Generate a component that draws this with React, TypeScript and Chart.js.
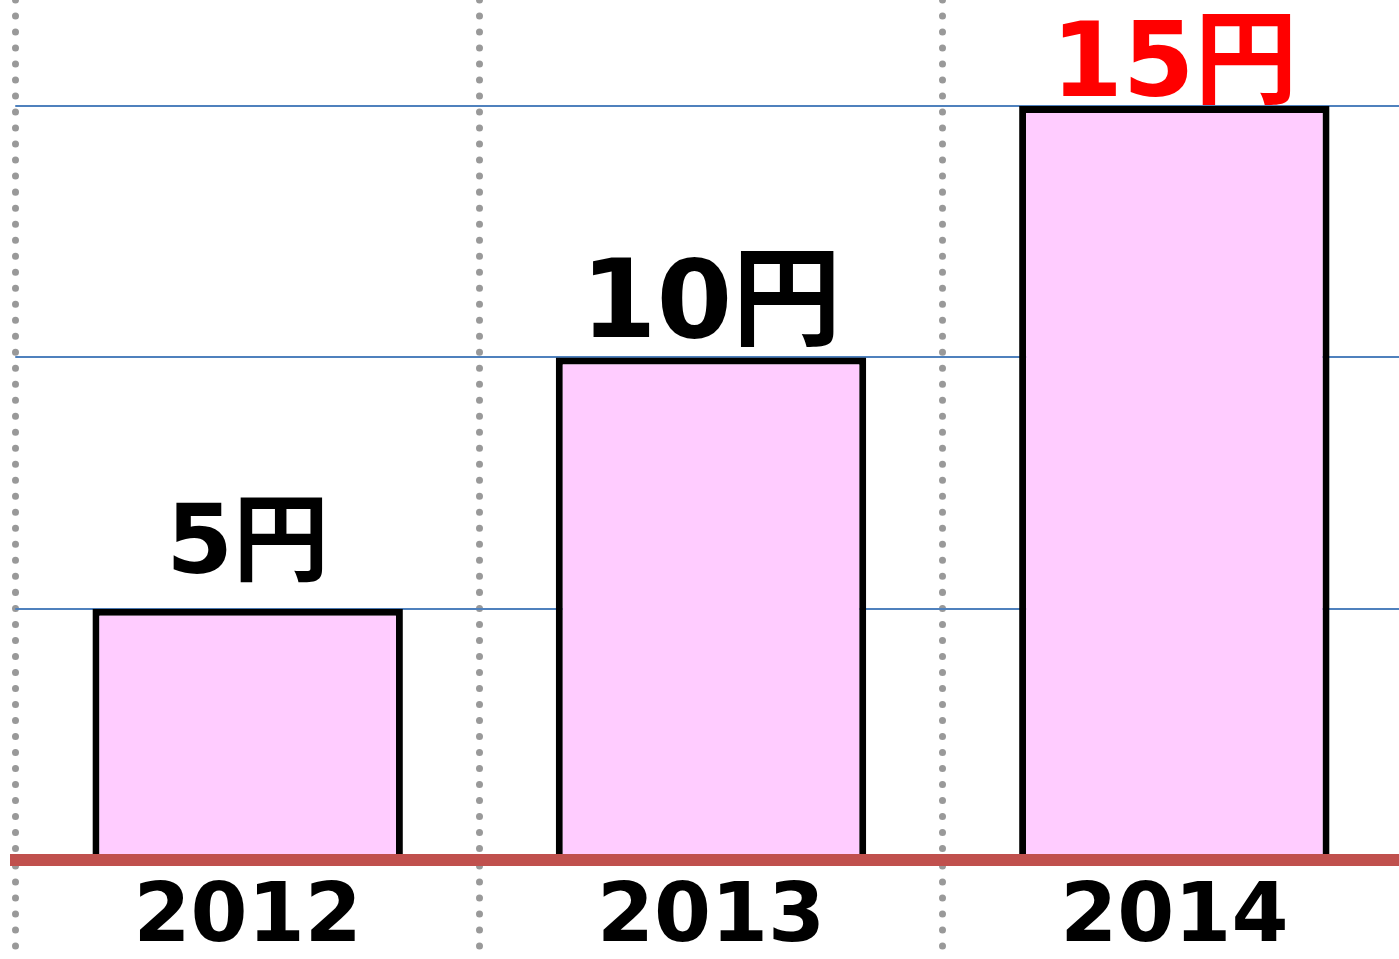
import React, { useEffect, useRef } from 'react';
import { Chart, registerables } from 'chart.js';

Chart.register(...registerables);

const categories = ['2012', '2013', '2014'];
const prices = [5, 10, 15];
const unitSuffix = '円';
const gridValues = [5, 10, 15];
const labelColors = ['#000000', '#000000', '#FF0000'];
const labelFontSizes = [96, 109, 103];
const labelGaps = [36, 20, 10];

const FONT = '"DejaVu Sans", "Noto Sans CJK JP", sans-serif';

export default function App() {
  const ref = useRef<HTMLCanvasElement>(null);

  useEffect(() => {
    const canvas = ref.current;
    if (!canvas) return;

    const labelPlugin = {
      id: 'barLabels',
      beforeDraw(chart: any) {
        chart.ctx.lineCap = 'round';
      },
      beforeDatasetsDraw(chart: any) {
        chart.ctx.lineCap = 'butt';
      },
      afterDatasetsDraw(chart: any) {
        const ctx = chart.ctx;
        const meta = chart.getDatasetMeta(0);
        ctx.save();
        ctx.textAlign = 'center';
        ctx.textBaseline = 'alphabetic';
        meta.data.forEach((bar: any, i: number) => {
          ctx.font = `bold ${labelFontSizes[i]}px ${FONT}`;
          ctx.fillStyle = labelColors[i];
          ctx.fillText(`${prices[i]}${unitSuffix}`, bar.x, bar.y - labelGaps[i]);
        });
        ctx.restore();
      },
    };

    const chart = new Chart(canvas, {
      type: 'bar',
      data: {
        labels: categories,
        datasets: [
          {
            data: prices,
            backgroundColor: '#FFCCFF',
            borderColor: '#000000',
            borderWidth: 7,
            barPercentage: 0.67,
            categoryPercentage: 1,
          },
        ],
      },
      options: {
        responsive: false,
        animation: false,
        layout: { padding: { left: 16, right: 0, top: 0, bottom: 0 } },
        plugins: {
          legend: { display: false },
          tooltip: { enabled: false },
        },
        scales: {
          x: {
            offset: true,
            grid: {
              offset: true,
              color: '#999999',
              lineWidth: 7,
              drawTicks: true,
              tickLength: 99,
              tickColor: '#999999',
              tickWidth: 7,
              tickBorderDash: [0.01, 16],
            },
            border: {
              display: true,
              color: '#C0504D',
              width: 12,
              dash: [0.01, 16],
              z: 1,
            },
            ticks: {
              color: '#000000',
              font: { family: FONT, size: 82, weight: 'bold', lineHeight: 0.95 },
              crossAlign: 'center',
              padding: -39,
              maxRotation: 0,
              autoSkip: false,
            },
          },
          y: {
            min: 0,
            max: 17.11,
            afterBuildTicks: (scale: any) => {
              scale.ticks = gridValues.map((v) => ({ value: v }));
            },
            grid: { color: '#4F81BD', lineWidth: 2, drawTicks: false },
            border: { display: false },
            ticks: { display: false },
          },
        },
      },
      plugins: [labelPlugin],
    } as any);

    return () => chart.destroy();
  }, []);

  return (
    <div
      style={{
        position: 'absolute',
        left: 0,
        top: 0,
        width: 1399,
        height: 959,
        overflow: 'hidden',
        background: '#ffffff',
      }}
    >
      <canvas ref={ref} width={1406} height={959} style={{ display: 'block' }} />
    </div>
  );
}
